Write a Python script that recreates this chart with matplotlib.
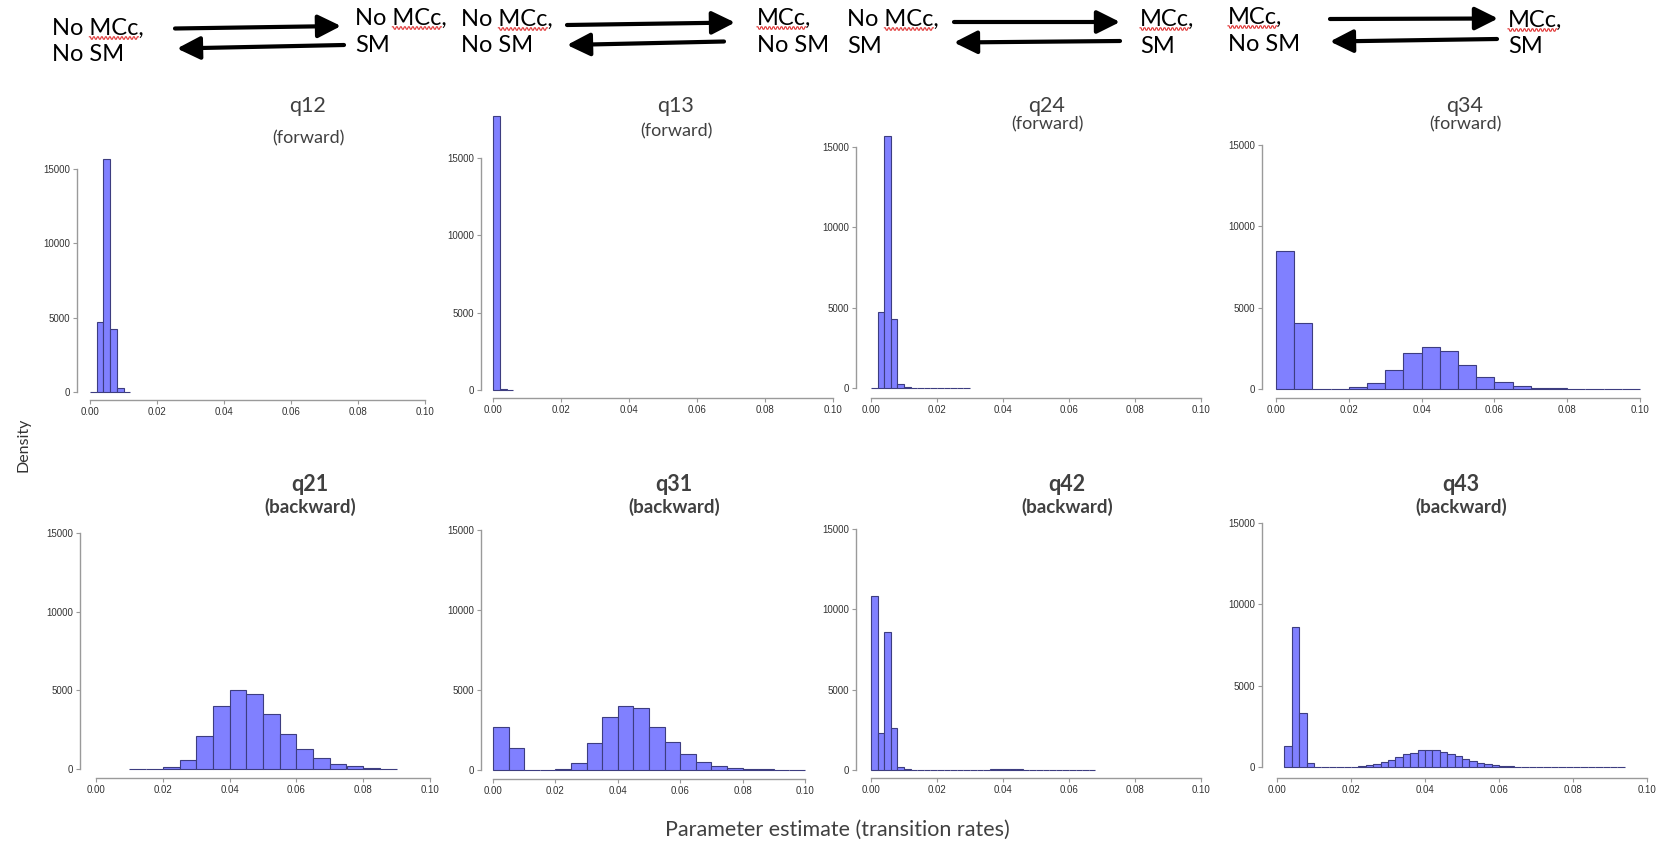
"""
Posterior densities of the transition rates (q12 ... q43), 2x4 panel figure
with the state diagram along the top.
"""
import numpy as np
import matplotlib
matplotlib.use('Agg')
import matplotlib.pyplot as plt
from matplotlib.font_manager import FontProperties
from matplotlib.transforms import IdentityTransform

# ---- data (histogram heights) ----
panel_names = ['q12', 'q13', 'q24', 'q34', 'q21', 'q31', 'q42', 'q43']
panel_dirs = ['(forward)'] * 4 + ['(backward)'] * 4

bin_start = {'q12': 0.0, 'q13': 0.0, 'q24': 0.0, 'q34': 0.0,
             'q21': 0.010, 'q31': 0.0, 'q42': 0.0, 'q43': 0.002}
bin_width = {'q12': 0.002, 'q13': 0.002, 'q24': 0.002, 'q34': 0.005,
             'q21': 0.005, 'q31': 0.005, 'q42': 0.002, 'q43': 0.002}

q12_density = [0, 4730, 15670, 4240, 270, 20]
q13_density = [17700, 40, 0]
q24_density = [0, 4730, 15680, 4290, 250, 60, 0, 0, 0, 0, 0, 0, 0, 0, 0]
q34_density = [8500, 4040, 30, 30, 100, 350, 1170, 2190, 2560, 2330,
               1475, 760, 450, 200, 80, 60, 0, 30, 0, 30]
q21_density = [0, 0, 100, 590, 2120, 3980, 4995, 4765, 3495, 2200,
               1270, 675, 340, 170, 90, 30]
q31_density = [2670, 1355, 0, 0, 50, 460, 1710, 3290, 4020, 3900,
               2710, 1730, 980, 480, 270, 145, 80, 40, 20, 20]
q42_density = [10800, 2290, 8560, 2640, 210, 80,
               0, 0, 0, 0, 0, 0, 0, 0, 0, 0,
               20, 30, 50, 70, 60, 50, 40, 30, 30, 20,
               0, 0, 0, 0, 0, 0, 0, 0]
q43_density = [1310, 8580, 3320, 220,
               0, 0, 0, 0, 0,
               20, 40, 100, 185, 290, 430, 615, 820, 840, 1025, 1065, 1025,
               900, 800, 655, 490, 350, 225, 165, 100, 60, 40, 20, 20,
               0, 0, 0, 0, 0, 0, 0, 0, 0, 0, 0, 0, 0]
densities = {'q12': q12_density, 'q13': q13_density, 'q24': q24_density,
             'q34': q34_density, 'q21': q21_density, 'q31': q31_density,
             'q42': q42_density, 'q43': q43_density}

y_ticks = [0, 5000, 10000, 15000]
x_ticks = [0.0, 0.02, 0.04, 0.06, 0.08, 0.10]

# state diagram labels (line 1, line 2)
state_labels = [('No MCc,', 'No SM'), ('No MCc,', 'SM'),
                ('No MCc,', 'No SM'), ('MCc,', 'No SM'),
                ('No MCc,', 'SM'), ('MCc,', 'SM'),
                ('MCc,', 'No SM'), ('MCc,', 'SM')]

# ---- layout (pixels, measured from the top-left) ----
W, H = 1661, 843
# yaxis_x, x(0), x(0.1), y(0), y(15000), xaxis_y
geom = {'q12': (77, 90, 425, 392, 169, 400),
        'q13': (481, 493, 833, 390, 158, 398),
        'q24': (856, 871, 1201, 388, 147, 398),
        'q34': (1262, 1276, 1640, 389, 145, 398),
        'q21': (80, 96, 430, 769, 533, 778),
        'q31': (481, 493, 805, 770, 530, 779),
        'q42': (856, 871, 1201, 770, 529, 778),
        'q43': (1262, 1277, 1647, 767, 523, 778)}
title_pos = {'q12': (308, 106, 138), 'q13': (676, 106, 131),
             'q24': (1047, 106, 124), 'q34': (1465, 106, 124),
             'q21': (310, 484, 507), 'q31': (674, 484, 507),
             'q42': (1067, 484, 507), 'q43': (1461, 484, 507)}
state_pos = [(52, 27, 53), (355, 17, 44), (461, 18, 44), (757, 17, 44),
             (847, 18, 45), (1140, 18, 45), (1228, 16, 43), (1508, 19, 45)]
# (tail, tip) pairs for the arrows
arrow_pos = [((175, 28.5), (341, 26)), ((344, 45), (177, 48.5)),
             ((567, 25), (735, 22.5)), ((724, 41.5), (567, 45)),
             ((954, 22), (1120, 22)), ((1120, 41), (954, 42.5)),
             ((1330, 19), (1498, 18.5)), ((1497, 39), (1330, 41.5))]

plt.rcParams['font.family'] = ['Lato', 'DejaVu Sans']
bar_color = '#8080ff'
edge_color = '#3d3d80'
axis_grey = '#9a9a9a'
text_grey = '#404040'

fig = plt.figure(figsize=(W / 100, H / 100), dpi=100)

for name, direction in zip(panel_names, panel_dirs):
    yax, x0, x1, y0, y15, xax = geom[name]
    kx = (x1 - x0) / 0.1
    ky = (y0 - y15) / 15000
    top = y15 - 25
    right = x1 + (x0 - yax)
    ax = fig.add_axes([yax / W, 1 - xax / H, (right - yax) / W, (xax - top) / H])
    ax.set_xlim(-(x0 - yax) / kx, 0.1 + (right - x1) / kx)
    ax.set_ylim(-(xax - y0) / ky, (y0 - top) / ky)

    heights = np.array(densities[name])
    edges = bin_start[name] + bin_width[name] * np.arange(len(heights))
    ax.bar(edges, heights, width=bin_width[name], align='edge',
           color=bar_color, edgecolor=edge_color, linewidth=0.8, clip_on=False)

    for side in ['top', 'right']:
        ax.spines[side].set_visible(False)
    for side in ['left', 'bottom']:
        ax.spines[side].set_color(axis_grey)
        ax.spines[side].set_linewidth(1.0)
    ax.spines['left'].set_bounds(0, 15000)
    ax.spines['bottom'].set_bounds(0, 0.1)
    ax.set_yticks(y_ticks)
    ax.set_xticks(x_ticks)
    ax.set_xticklabels(['%.2f' % t for t in x_ticks])
    ax.tick_params(colors=axis_grey, length=3, width=0.8, labelsize=7,
                   labelcolor='#333333', pad=2)
    for lab in ax.get_xticklabels() + ax.get_yticklabels():
        lab.set_family('Liberation Sans')

    tx, ty, sy = title_pos[name]
    bold = 'bold' if direction == '(backward)' else 'normal'
    fig.text(tx / W, 1 - ty / H, name, ha='center', va='center',
             fontsize=15.5, color=text_grey, fontweight=bold)
    fig.text(tx / W, 1 - sy / H, direction, ha='center', va='center',
             fontsize=13.5 if bold == 'bold' else 13, color=text_grey,
             fontweight=bold)

# state diagram along the top
renderer = fig.canvas.get_renderer()
fp = FontProperties(family=['Lato', 'DejaVu Sans'], size=17)
for (line1, line2), (sx, c1, c2) in zip(state_labels, state_pos):
    for line, c in [(line1, c1), (line2, c2)]:
        fig.text(sx / W, 1 - (c + 8) / H, line, ha='left', va='baseline',
                 fontproperties=fp, color='black')
    # red spell-check squiggle under "MCc"
    i = line1.index('MCc')
    w0 = renderer.get_text_width_height_descent(line1[:i], fp, ismath=False)[0]
    w1 = renderer.get_text_width_height_descent(line1[:i + 3], fp, ismath=False)[0]
    xs = np.arange(sx + w0, sx + w1 + 0.5, 1.0)
    ys = (H - (c1 + 11)) + 1.2 * np.where(np.arange(len(xs)) % 4 < 2, 1, -1)
    fig.add_artist(plt.Line2D(xs, ys, transform=IdentityTransform(),
                              color='#e03030', lw=0.8))

for tail, tip in arrow_pos:
    fig.add_artist(matplotlib.patches.FancyArrowPatch(
        (tail[0], H - tail[1]), (tip[0], H - tip[1]),
        transform=IdentityTransform(),
        arrowstyle='-|>,head_length=0.7,head_width=0.35', mutation_scale=20,
        lw=3, color='black', shrinkA=0, shrinkB=0))

fig.text(23 / W, 1 - 445 / H, 'Density', rotation=90, ha='center',
         va='center', fontsize=11.5, color='#333333')
fig.text(837 / W, 1 - 830 / H, 'Parameter estimate (transition rates)',
         ha='center', va='center', fontsize=15.5, color=text_grey)

plt.savefig('out.png', dpi=100)
